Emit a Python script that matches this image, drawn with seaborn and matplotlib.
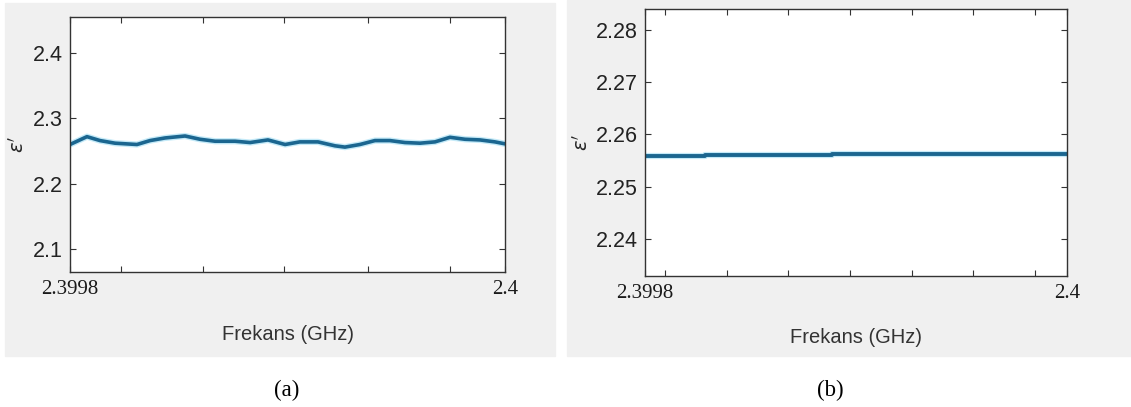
import matplotlib
matplotlib.use("Agg")
import matplotlib.pyplot as plt
import seaborn as sns
import pandas as pd
from matplotlib.patches import Rectangle

freq_a = [2.3998, 2.3998078, 2.3998138, 2.3998207, 2.3998308, 2.3998368, 2.3998437,
          2.3998529, 2.3998598, 2.3998667, 2.3998759, 2.3998828, 2.3998910, 2.3998989,
          2.3999057, 2.3999140, 2.3999218, 2.3999264, 2.3999333, 2.3999402, 2.3999471,
          2.3999540, 2.3999609, 2.3999678, 2.3999747, 2.3999816, 2.3999885, 2.3999954, 2.4]
eps_a = [2.260, 2.272, 2.266, 2.262, 2.260, 2.266, 2.270,
         2.273, 2.268, 2.265, 2.265, 2.263, 2.267, 2.260,
         2.264, 2.264, 2.258, 2.256, 2.260, 2.266, 2.266,
         2.263, 2.262, 2.264, 2.271, 2.268, 2.267, 2.264, 2.261]

freq_b = [2.3998, 2.3998284, 2.3998886, 2.4]
eps_b = [2.2558, 2.2560, 2.2562, 2.2562]

xticks_a = [2.3998234, 2.3998612, 2.3998984, 2.399937, 2.3999748]
xticks_b = [2.39980948, 2.39983886, 2.39986777, 2.39989716, 2.39992654, 2.39995545, 2.39998483]
yticks_a = [2.1, 2.2, 2.3, 2.4]
yticks_b = [2.24, 2.25, 2.26, 2.27, 2.28]

df_a = pd.DataFrame({"f": freq_a, "e": eps_a})
df_b = pd.DataFrame({"f": freq_b, "e": eps_b})

sns.set_style("ticks")
plt.rcParams['font.family'] = ['Liberation Sans', 'DejaVu Sans']

W, H = 1131, 407
fig = plt.figure(figsize=(W / 100, H / 100), dpi=100, facecolor='white')

# gray panel backgrounds
fig.patches.append(Rectangle((5 / W, 1 - 356 / H), 550 / W, 353 / H,
                             transform=fig.transFigure, color='#f0f0f0', zorder=-10))
fig.patches.append(Rectangle((567 / W, 1 - 356 / H), 564 / W, 356 / H,
                             transform=fig.transFigure, color='#f0f0f0', zorder=-10))

line_col = '#1b6690'


def setup(ax, xticks, yticks, ylim, ylab_x, xlab_y):
    ax.set_facecolor('white')
    ax.set_xlim(2.3998, 2.4)
    ax.set_ylim(*ylim)
    ax.set_xticks([2.3998] + xticks + [2.4])
    ax.set_xticklabels(['2.3998'] + [''] * len(xticks) + ['2.4'],
                       family='Liberation Serif', fontsize=15, color='#1a1a1a')
    ax.set_yticks(yticks)
    ax.set_yticklabels([f"{v:g}" for v in yticks], fontsize=15.5, color='#222222')
    ax.tick_params(direction='in', length=4, width=0.8, color='#333333',
                   top=True, right=True, pad=5)
    ax.tick_params(axis='x', pad=6)
    for s in ax.spines.values():
        s.set_visible(True)
        s.set_color('#333333')
        s.set_linewidth(1.0)
    ax.set_ylabel("$\\epsilon'$", fontsize=14, color='#262626', va='center')
    ax.yaxis.set_label_coords(ylab_x, 0.5)
    ax.set_xlabel("Frekans (GHz)", fontsize=14.5, color='#333333', va='center')
    ax.xaxis.set_label_coords(0.5, xlab_y)


ax1 = fig.add_axes([70 / W, 1 - 272 / H, 435 / W, 255 / H])
sns.lineplot(data=df_a, x='f', y='e', ax=ax1, color='#c4eaf8', linewidth=4.5)
sns.lineplot(data=df_a, x='f', y='e', ax=ax1, color=line_col, linewidth=2.6)
setup(ax1, xticks_a, yticks_a, (2.065, 2.455), -0.12, -0.247)

ax2 = fig.add_axes([645 / W, 1 - 276 / H, 422 / W, 267 / H])
sns.lineplot(data=df_b, x='f', y='e', ax=ax2, color='#c4eaf8', linewidth=4.5,
             drawstyle='steps-post')
sns.lineplot(data=df_b, x='f', y='e', ax=ax2, color=line_col, linewidth=2.8,
             drawstyle='steps-post')
setup(ax2, xticks_b, yticks_b, (2.2329, 2.2840), -0.15, -0.232)

fig.text(287 / W, 1 - 390 / H, "(a)", family='Liberation Serif', fontsize=16.5,
         ha='center', va='center', color='black')
fig.text(830 / W, 1 - 390 / H, "(b)", family='Liberation Serif', fontsize=16.5,
         ha='center', va='center', color='black')

fig.savefig('out.png', dpi=100)
